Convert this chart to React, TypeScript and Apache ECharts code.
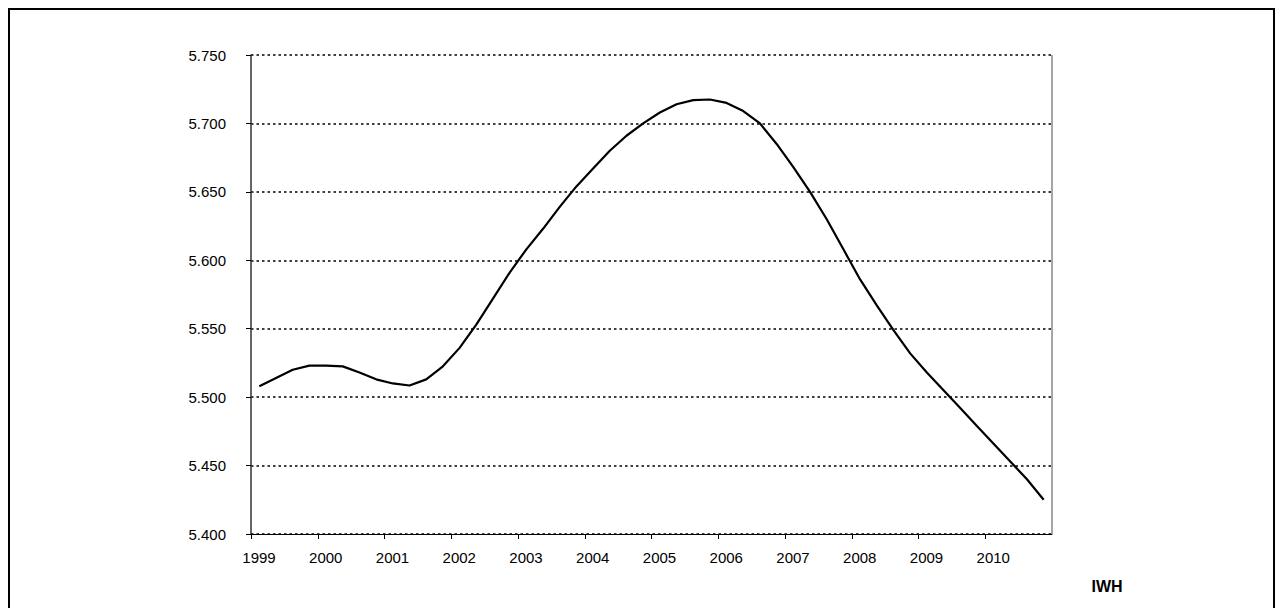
import { useRef, useEffect } from "react";
import * as echarts from "echarts";

// quarterly values, 1999 Q1 .. 2010 Q4 (plotted mid-quarter)
const startYear = 1999;
const values = [
  5.508, 5.514, 5.52, 5.523, 5.523, 5.5225, 5.518, 5.513,
  5.51, 5.5085, 5.513, 5.5225, 5.536, 5.553, 5.572, 5.591,
  5.608, 5.623, 5.639, 5.654, 5.667, 5.68, 5.691, 5.7,
  5.708, 5.714, 5.717, 5.7175, 5.715, 5.709, 5.7, 5.685,
  5.668, 5.65, 5.63, 5.608, 5.586, 5.567, 5.549, 5.532,
  5.518, 5.505, 5.492, 5.479, 5.466, 5.453, 5.44, 5.425,
];
const yTicks = { min: 5.4, max: 5.75, step: 0.05 };
const xRange = { min: 1999, max: 2011 };
const sourceLabel = "IWH";

export default function App() {
  const chartRef = useRef<HTMLDivElement>(null);

  useEffect(() => {
    if (!chartRef.current) return;
    const chart = echarts.init(chartRef.current, null, { renderer: "svg" });

    const points = values.map((v, i) => [startYear + (i + 0.5) / 4, v]);

    chart.setOption({
      animation: false,
      textStyle: { fontFamily: "Liberation Sans, Arial, sans-serif" },
      grid: { left: 243, top: 47, width: 801, height: 479 },
      xAxis: {
        type: "value",
        min: xRange.min,
        max: xRange.max,
        interval: 1,
        axisLine: { show: true, onZero: false, lineStyle: { color: "#000", width: 1 } },
        axisTick: { show: true, inside: false, length: 5, lineStyle: { color: "#000" } },
        axisLabel: {
          color: "#000",
          fontSize: 15,
          margin: 16,
          padding: [0, 0, 0, 16],
          showMaxLabel: false,
          formatter: (v: number) => String(v),
        },
        splitLine: { show: false },
      },
      yAxis: {
        type: "value",
        min: yTicks.min,
        max: yTicks.max,
        interval: yTicks.step,
        axisLine: { show: true, lineStyle: { color: "#333", width: 1.5 } },
        axisTick: { show: true, length: 5, lineStyle: { color: "#000" } },
        axisLabel: {
          color: "#000",
          fontSize: 15,
          margin: 25,
          formatter: (v: number) => v.toFixed(3),
        },
        splitLine: {
          show: true,
          lineStyle: { color: "#000", type: [2.5, 3], width: 1.5 },
        },
      },
      series: [
        {
          type: "line",
          data: points,
          showSymbol: false,
          smooth: false,
          lineStyle: { color: "#000", width: 2.2 },
        },
      ],
      graphic: [
        {
          type: "rect",
          shape: { x: 1, y: 1, width: 1265, height: 640 },
          style: { fill: "none", stroke: "#000", lineWidth: 2 },
        },
        {
          type: "line",
          shape: { x1: 1044, y1: 47, x2: 1044, y2: 526 },
          style: { stroke: "#888", lineWidth: 1.5 },
        },
        {
          type: "text",
          x: 1099,
          y: 578,
          style: {
            text: sourceLabel,
            fill: "#000",
            font: "bold 16px Liberation Sans, Arial, sans-serif",
            align: "center",
            verticalAlign: "middle",
          },
        },
      ],
    });

    return () => chart.dispose();
  }, []);

  return <div ref={chartRef} style={{ width: 1276, height: 600 }} />;
}
